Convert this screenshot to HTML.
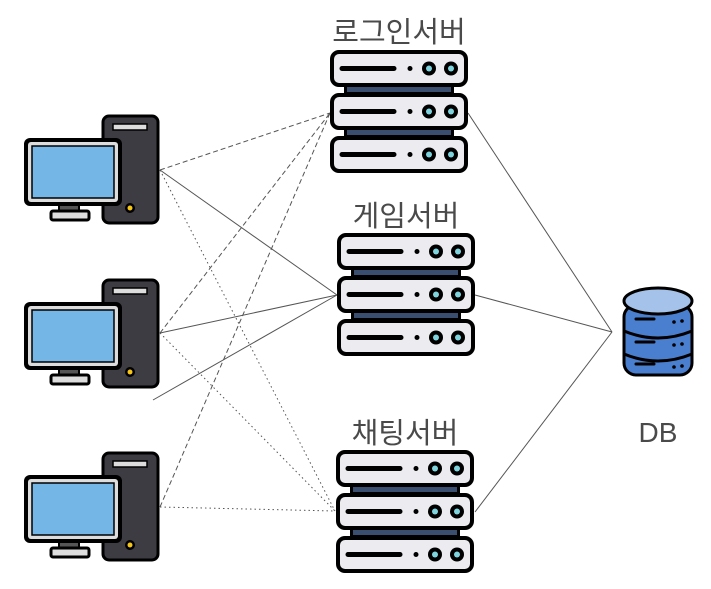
<!DOCTYPE html>
<html><head><meta charset="utf-8"><style>
html,body{margin:0;padding:0;background:#fff;}
svg{display:block;}
text{font-family:"Liberation Sans","Noto Sans CJK KR",sans-serif;fill:#4a4a4a;}
</style></head><body>
<svg width="711" height="589" viewBox="0 0 711 589" xmlns="http://www.w3.org/2000/svg">
<defs>
<g id="unit">
<rect x="2" y="2" width="134" height="33" rx="7" fill="#ebebf0" stroke="#000" stroke-width="4"/>
<line x1="12" y1="18.5" x2="64" y2="18.5" stroke="#000" stroke-width="5" stroke-linecap="round"/>
<circle cx="80" cy="18.5" r="2.5" fill="#000"/>
<circle cx="99" cy="18.5" r="7" fill="#000"/><circle cx="99" cy="18.5" r="3" fill="#7fd3dd"/>
<circle cx="121" cy="18.5" r="7" fill="#000"/><circle cx="121" cy="18.5" r="3" fill="#7fd3dd"/>
</g>
<g id="server">
<rect x="14" y="30" width="110" height="70" fill="#000"/>
<rect x="17" y="36" width="104" height="6" fill="#3a4f70"/>
<rect x="17" y="79" width="104" height="6" fill="#3a4f70"/>
<use href="#unit" x="0" y="0"/>
<use href="#unit" x="0" y="43"/>
<use href="#unit" x="0" y="86"/>
</g>
<g id="pc">
<rect x="80" y="1" width="55" height="107" rx="6" fill="#3c3c42" stroke="#000" stroke-width="3"/>
<rect x="90" y="9" width="34" height="6" fill="#ddd" stroke="#000" stroke-width="1.5"/>
<circle cx="107" cy="93" r="5" fill="#000"/><circle cx="107" cy="93" r="2.5" fill="#f5c518"/>
<rect x="36" y="88" width="20" height="10" fill="#555" stroke="#000" stroke-width="2"/>
<rect x="28" y="96" width="38" height="9" rx="2" fill="#ddd" stroke="#000" stroke-width="3"/>
<rect x="1" y="23" width="98" height="68" rx="6" fill="#000"/>
<rect x="5" y="27" width="90" height="60" rx="3" fill="#ddd"/>
<rect x="9" y="31" width="82" height="52" fill="#74b6e6" stroke="#000" stroke-width="1.5"/>
</g>
</defs>

<g stroke="#555" stroke-width="1" fill="none">
<g stroke-dasharray="5,3">
<line x1="160" y1="170" x2="330" y2="113"/>
<line x1="160" y1="333" x2="330" y2="113"/>
<line x1="160" y1="507" x2="330" y2="113"/>
</g>
<g stroke-dasharray="1.5,3">
<line x1="160" y1="170" x2="335" y2="511"/>
<line x1="160" y1="333" x2="335" y2="511"/>
<line x1="160" y1="507" x2="335" y2="511"/>
</g>
<line x1="160" y1="170" x2="337" y2="295"/>
<line x1="160" y1="333" x2="337" y2="295"/>
<line x1="153" y1="400" x2="337" y2="295"/>
<line x1="468" y1="113" x2="612" y2="332"/>
<line x1="475" y1="295" x2="612" y2="332"/>
<line x1="475" y1="512" x2="612" y2="332"/>
</g>

<use href="#pc" x="23" y="115"/>
<use href="#pc" x="23" y="279"/>
<use href="#pc" x="23" y="452"/>

<use href="#server" x="330" y="50"/>
<use href="#server" x="337" y="233"/>
<use href="#server" x="336" y="450"/>

<g>
<rect x="624" y="305" width="68" height="70" rx="12" fill="#4a7fd0" stroke="#000" stroke-width="3"/>
<ellipse cx="658" cy="301" rx="34" ry="13" fill="#a5c3ea" stroke="#000" stroke-width="3"/>
<path d="M624 331 q34 14 68 0 M624 354 q34 14 68 0" stroke="#000" stroke-width="3" fill="none"/>
<path d="M636 319 h18 M636 342 h18 M636 364 h18" stroke="#000" stroke-width="3" stroke-linecap="round"/>
<circle cx="674" cy="322" r="1.8" fill="#000"/><circle cx="682" cy="321" r="1.8" fill="#000"/>
<circle cx="674" cy="345" r="1.8" fill="#000"/><circle cx="682" cy="344" r="1.8" fill="#000"/>
<circle cx="674" cy="367" r="1.8" fill="#000"/><circle cx="682" cy="366" r="1.8" fill="#000"/>
</g>

<text x="399" y="42" font-size="29" text-anchor="middle">로그인서버</text>
<text x="406" y="226" font-size="29" text-anchor="middle">게임서버</text>
<text x="405" y="443" font-size="29" text-anchor="middle">채팅서버</text>
<text x="658" y="442" font-size="28" text-anchor="middle">DB</text>
</svg>
</body></html>
